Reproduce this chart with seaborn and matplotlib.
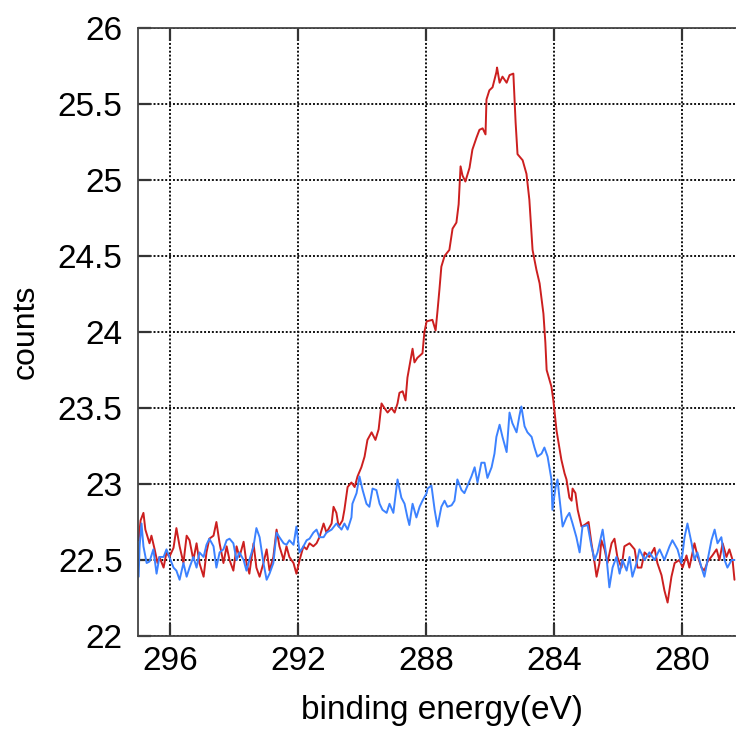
from __future__ import annotations

import matplotlib

matplotlib.use("Agg")
import matplotlib.pyplot as plt
import pandas as pd
import seaborn as sns


# C1s spectra (binding energy in eV, counts)
red_energy = [
    296.98, 296.92, 296.83, 296.77, 296.64, 296.58, 296.48, 296.39, 296.33, 296.20,
    296.11, 296.02, 295.89, 295.80, 295.70, 295.58, 295.48, 295.39, 295.27, 295.17,
    295.08, 294.95, 294.86, 294.77, 294.64, 294.55, 294.45, 294.33, 294.23, 294.14,
    294.02, 293.92, 293.83, 293.70, 293.61, 293.52, 293.39, 293.30, 293.20, 293.08,
    292.98, 292.89, 292.77, 292.67, 292.58, 292.45, 292.36, 292.27, 292.14, 292.05,
    291.95, 291.83, 291.73, 291.64, 291.52, 291.42, 291.33, 291.20, 291.11, 290.95,
    290.89, 290.80, 290.73, 290.61, 290.55, 290.45, 290.33, 290.23, 290.14, 290.02,
    289.92, 289.83, 289.70, 289.58, 289.48, 289.39, 289.30, 289.20, 289.08, 288.98,
    288.89, 288.83, 288.73, 288.64, 288.58, 288.42, 288.36, 288.27, 288.11, 288.05,
    287.98, 287.80, 287.70, 287.64, 287.58, 287.52, 287.42, 287.27, 287.17, 287.05,
    286.98, 286.92, 286.86, 286.77, 286.64, 286.55, 286.42, 286.33, 286.23, 286.14,
    286.11, 286.02, 285.92, 285.80, 285.78, 285.70, 285.61, 285.48, 285.39, 285.27,
    285.20, 285.14, 284.98, 284.86, 284.77, 284.67, 284.55, 284.45, 284.33, 284.27,
    284.23, 284.08, 284.02, 283.92, 283.77, 283.67, 283.61, 283.52, 283.45, 283.42,
    283.33, 283.26, 283.14, 283.05, 282.92, 282.83, 282.73, 282.67, 282.58, 282.52,
    282.42, 282.33, 282.20, 282.11, 282.02, 281.89, 281.80, 281.64, 281.48, 281.39,
    281.27, 281.17, 281.02, 280.86, 280.77, 280.64, 280.55, 280.45, 280.33, 280.23,
    280.08, 279.98, 279.86, 279.77, 279.61, 279.52, 279.39, 279.30, 279.20, 279.05,
    278.92, 278.83, 278.73, 278.61, 278.52, 278.42, 278.36,
]
red_counts = [
    22.63, 22.76, 22.81, 22.70, 22.61, 22.66, 22.57, 22.48, 22.52, 22.45,
    22.55, 22.52, 22.58, 22.71, 22.59, 22.48, 22.66, 22.63, 22.50, 22.61,
    22.48, 22.39, 22.55, 22.64, 22.66, 22.75, 22.61, 22.48, 22.59, 22.50,
    22.43, 22.59, 22.52, 22.62, 22.48, 22.41, 22.61, 22.45, 22.39, 22.48,
    22.57, 22.43, 22.52, 22.70, 22.59, 22.50, 22.59, 22.52, 22.48, 22.41,
    22.50, 22.59, 22.57, 22.61, 22.59, 22.61, 22.65, 22.74, 22.68, 22.74,
    22.85, 22.81, 22.72, 22.76, 22.83, 22.98, 23.01, 22.98, 23.05, 23.11,
    23.18, 23.29, 23.34, 23.29, 23.36, 23.53, 23.50, 23.47, 23.50, 23.47,
    23.53, 23.60, 23.61, 23.55, 23.70, 23.89, 23.80, 23.83, 23.86, 24.00,
    24.07, 24.08, 24.01, 24.14, 24.28, 24.43, 24.50, 24.54, 24.68, 24.72,
    24.84, 25.09, 25.03, 24.99, 25.08, 25.20, 25.28, 25.33, 25.34, 25.30,
    25.53, 25.59, 25.61, 25.71, 25.74, 25.64, 25.68, 25.64, 25.69, 25.70,
    25.38, 25.17, 25.13, 25.04, 24.87, 24.54, 24.41, 24.32, 24.12, 23.93,
    23.75, 23.64, 23.55, 23.35, 23.16, 23.07, 23.03, 22.91, 22.89, 22.97,
    22.94, 22.83, 22.72, 22.73, 22.75, 22.61, 22.48, 22.39, 22.48, 22.63,
    22.57, 22.48, 22.61, 22.64, 22.52, 22.45, 22.59, 22.61, 22.57, 22.45,
    22.45, 22.55, 22.52, 22.58, 22.48, 22.40, 22.30, 22.22, 22.39, 22.48,
    22.50, 22.45, 22.53, 22.45, 22.61, 22.53, 22.45, 22.43, 22.49, 22.53,
    22.57, 22.50, 22.61, 22.52, 22.57, 22.50, 22.37,
]

blue_energy = [
    296.98, 296.95, 296.89, 296.83, 296.73, 296.64, 296.52, 296.42, 296.33, 296.20,
    296.11, 296.02, 295.89, 295.80, 295.70, 295.58, 295.48, 295.39, 295.27, 295.17,
    295.08, 294.95, 294.86, 294.77, 294.64, 294.55, 294.45, 294.33, 294.23, 294.14,
    294.02, 293.92, 293.83, 293.70, 293.61, 293.52, 293.39, 293.30, 293.20, 293.08,
    292.98, 292.89, 292.77, 292.67, 292.58, 292.45, 292.36, 292.27, 292.14, 292.05,
    291.95, 291.83, 291.73, 291.64, 291.52, 291.42, 291.33, 291.20, 291.11, 290.95,
    290.80, 290.64, 290.55, 290.45, 290.33, 290.30, 290.17, 290.08, 289.98, 289.86,
    289.77, 289.67, 289.55, 289.45, 289.36, 289.23, 289.14, 289.02, 288.92, 288.89,
    288.77, 288.67, 288.58, 288.52, 288.42, 288.30, 288.20, 288.11, 287.98, 287.95,
    287.83, 287.73, 287.64, 287.52, 287.42, 287.33, 287.20, 287.11, 287.02, 286.89,
    286.80, 286.70, 286.58, 286.48, 286.39, 286.27, 286.17, 286.08, 285.95, 285.86,
    285.80, 285.70, 285.61, 285.48, 285.39, 285.30, 285.17, 285.08, 285.02, 284.92,
    284.83, 284.70, 284.61, 284.52, 284.39, 284.30, 284.20, 284.08, 284.05, 283.95,
    283.89, 283.83, 283.73, 283.61, 283.52, 283.42, 283.30, 283.20, 283.11, 282.95,
    282.83, 282.73, 282.64, 282.48, 282.36, 282.27, 282.17, 282.05, 281.95, 281.86,
    281.73, 281.64, 281.55, 281.42, 281.33, 281.17, 281.02, 280.86, 280.70, 280.55,
    280.39, 280.30, 280.14, 280.02, 279.92, 279.83, 279.70, 279.61, 279.52, 279.39,
    279.30, 279.20, 279.08, 278.98, 278.89, 278.77, 278.67, 278.58, 278.45, 278.36,
]
blue_counts = [
    22.39, 22.59, 22.74, 22.59, 22.48, 22.49, 22.57, 22.41, 22.52, 22.52,
    22.57, 22.52, 22.45, 22.43, 22.37, 22.48, 22.39, 22.45, 22.52, 22.45,
    22.55, 22.52, 22.60, 22.64, 22.59, 22.45, 22.55, 22.57, 22.63, 22.64,
    22.61, 22.50, 22.55, 22.50, 22.43, 22.50, 22.59, 22.71, 22.65, 22.48,
    22.37, 22.41, 22.48, 22.68, 22.65, 22.61, 22.60, 22.63, 22.60, 22.72,
    22.55, 22.59, 22.63, 22.64, 22.68, 22.70, 22.65, 22.65, 22.68, 22.70,
    22.74, 22.70, 22.74, 22.70, 22.78, 22.87, 22.94, 23.05, 22.96, 22.87,
    22.85, 22.97, 22.96, 22.87, 22.83, 22.81, 22.87, 22.81, 22.98, 23.03,
    22.91, 22.87, 22.78, 22.73, 22.87, 22.78, 22.85, 22.89, 22.94, 22.97,
    22.99, 22.83, 22.72, 22.85, 22.89, 22.85, 22.86, 22.89, 23.03, 22.96,
    22.94, 22.99, 23.05, 23.11, 23.01, 23.14, 23.14, 23.04, 23.11, 23.20,
    23.31, 23.39, 23.31, 23.21, 23.47, 23.40, 23.34, 23.45, 23.51, 23.38,
    23.34, 23.31, 23.24, 23.18, 23.20, 23.24, 23.18, 23.03, 22.83, 22.98,
    23.03, 22.91, 22.72, 22.78, 22.81, 22.74, 22.65, 22.55, 22.72, 22.73,
    22.59, 22.50, 22.55, 22.70, 22.52, 22.32, 22.45, 22.52, 22.41, 22.50,
    22.43, 22.52, 22.39, 22.48, 22.57, 22.50, 22.55, 22.50, 22.57, 22.50,
    22.59, 22.63, 22.57, 22.48, 22.65, 22.74, 22.61, 22.50, 22.55, 22.45,
    22.39, 22.50, 22.63, 22.70, 22.61, 22.65, 22.50, 22.45, 22.50, 22.50,
]

x_ticks = [296, 292, 288, 284, 280]
y_ticks = [22, 22.5, 23, 23.5, 24, 24.5, 25, 25.5, 26]
y_tick_labels = ["22", "22.5", "23", "23.5", "24", "24.5", "25", "25.5", "26"]

RED = "#cc1f1f"
BLUE = "#3c82ff"


def build_frame() -> pd.DataFrame:
    red = pd.DataFrame({"energy": red_energy, "counts": red_counts, "sample": "red"})
    blue = pd.DataFrame({"energy": blue_energy, "counts": blue_counts, "sample": "blue"})
    return pd.concat([red, blue], ignore_index=True)


def main() -> None:
    sns.set_theme(style="white")
    plt.rcParams["font.family"] = ["Liberation Sans", "DejaVu Sans"]

    df = build_frame()

    fig = plt.figure(figsize=(7.36, 7.42), dpi=100)
    # right edge runs past the canvas, like the cropped original
    ax = fig.add_axes([138 / 736, 1 - 636 / 742, 608 / 736, 608 / 742])

    sns.lineplot(
        data=df,
        x="energy",
        y="counts",
        hue="sample",
        palette={"red": RED, "blue": BLUE},
        sort=False,
        estimator=None,
        linewidth=1.4,
        legend=False,
        ax=ax,
    )

    ax.set_xlim(297, 278)
    ax.set_ylim(22, 26)
    ax.set_xticks(x_ticks)
    ax.set_xticklabels([str(t) for t in x_ticks])
    ax.set_yticks(y_ticks)
    ax.set_yticklabels(y_tick_labels)

    ax.grid(True, color="#111111", linestyle=(0, (1, 1)), linewidth=1.4)
    ax.set_axisbelow(True)

    for side in ("left", "bottom", "top", "right"):
        ax.spines[side].set_color("#444444")
        ax.spines[side].set_linewidth(1.3)

    ax.tick_params(axis="both", which="major", direction="in", length=9,
                   width=1.6, color="#333333", labelsize=24, labelcolor="black",
                   top=True, left=True, bottom=True)
    ax.tick_params(axis="y", pad=11)
    ax.tick_params(axis="x", pad=7)

    ax.set_xlabel("binding energy(eV)", fontsize=24, color="black")
    ax.set_ylabel("counts", fontsize=23, color="black")
    ax.xaxis.set_label_coords(0.5, -0.097)
    ax.yaxis.set_label_coords(-0.16, 0.5)

    fig.savefig("out.png", dpi=100)
    plt.close(fig)


if __name__ == "__main__":
    main()
